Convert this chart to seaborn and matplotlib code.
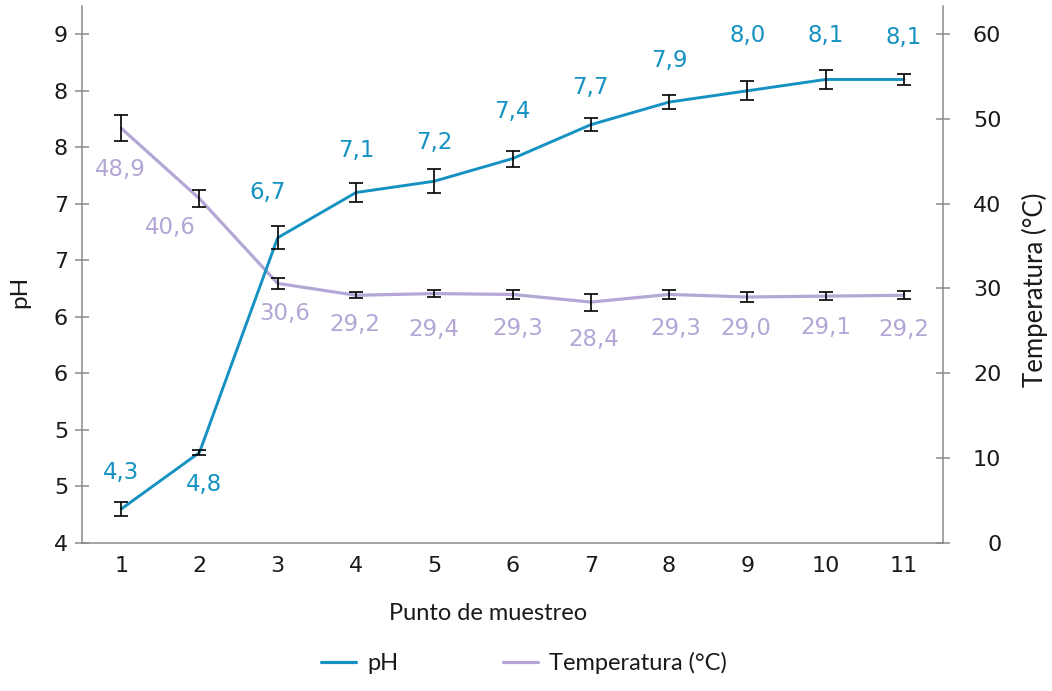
import matplotlib
matplotlib.use("Agg")
import math
import pandas as pd
import matplotlib.pyplot as plt
import seaborn as sns
from matplotlib.lines import Line2D

# --- data -------------------------------------------------------------------
puntos = [1, 2, 3, 4, 5, 6, 7, 8, 9, 10, 11]
ph = [4.3, 4.8, 6.7, 7.1, 7.2, 7.4, 7.7, 7.9, 8.0, 8.1, 8.1]
ph_err = [0.06, 0.025, 0.10, 0.087, 0.107, 0.07, 0.06, 0.06, 0.085, 0.087, 0.05]
temperatura = [48.9, 40.6, 30.6, 29.2, 29.4, 29.3, 28.4, 29.3, 29.0, 29.1, 29.2]
temperatura_err = [1.5, 1.0, 0.67, 0.33, 0.43, 0.5, 1.0, 0.5, 0.6, 0.5, 0.45]

ph_ticks = [4.0, 4.5, 5.0, 5.5, 6.0, 6.5, 7.0, 7.5, 8.0, 8.5]
temp_ticks = [0, 10, 20, 30, 40, 50, 60]

xlabel = "Punto de muestreo"
ylabel_ph = "pH"
ylabel_temp = "Temperatura (°C)"

# value-label placement (pixel offsets from each point)
ph_label_dx = [0, 5, -10, 0, 0, 0, 0, 0, 0, 0, 0]
ph_label_dy = [37, -32, 45, 42, 39, 47, 37, 42, 55, 44, 42]
temp_label_dx = [-1, -29, 7, -1, 0, 5, 3, 7, -2, 0, 0]
temp_label_dy = [-41, -29, -30, -29, -36, -34, -37, -34, -32, -31, -34]

# --- style ------------------------------------------------------------------
AZUL = "#1592c2"
LILA = "#b4a7d6"
GRIS = "#8a8a8a"
TEXTO = "#1a1a1a"

sns.set_theme(style="white")
plt.rcParams["font.family"] = ["Lato", "DejaVu Sans"]

W, H = 1052, 691
fig = plt.figure(figsize=(W / 100, H / 100), dpi=100)
left, right, top, bottom = 82, 943, 6, 543
ax = fig.add_axes([left / W, 1 - bottom / H, (right - left) / W, (bottom - top) / H])
ax2 = ax.twinx()

df = pd.DataFrame({"punto": puntos, "ph": ph, "temp": temperatura})

# temperature on the right axis
sns.lineplot(data=df, x="punto", y="temp", ax=ax2, color=LILA, linewidth=2.3,
             legend=False)
ax2.errorbar(puntos, temperatura, yerr=temperatura_err, fmt="none", ecolor="#000000",
             elinewidth=1.2, capsize=4.8, capthick=1.2, zorder=5)

# pH on the left axis, drawn above the temperature series
sns.lineplot(data=df, x="punto", y="ph", ax=ax, color=AZUL, linewidth=2.1,
             legend=False)
ax.errorbar(puntos, ph, yerr=ph_err, fmt="none", ecolor="#000000",
            elinewidth=1.2, capsize=4.8, capthick=1.2, zorder=5)
ax.set_zorder(ax2.get_zorder() + 1)
ax.patch.set_visible(False)

# value labels
num_font = dict(family="DejaVu Sans", fontsize=16.5, ha="center", va="center")
for x, v, dx, dy in zip(puntos, ph, ph_label_dx, ph_label_dy):
    ax.annotate(f"{v:.1f}".replace(".", ","), (x, v), xytext=(dx * 0.72, dy * 0.72),
                textcoords="offset points", color=AZUL, **num_font)
for x, v, dx, dy in zip(puntos, temperatura, temp_label_dx, temp_label_dy):
    ax2.annotate(f"{v:.1f}".replace(".", ","), (x, v), xytext=(dx * 0.72, dy * 0.72),
                 textcoords="offset points", color=LILA, **num_font)

# axes limits and ticks
ax.set_xlim(0.5, 11.5)
ax.set_ylim(4.0, 8.75)
ax2.set_ylim(0, 63.3)

ax.set_xticks(puntos, labels=[str(p) for p in puntos])
ax.set_yticks(ph_ticks, labels=[str(math.floor(t + 0.5)) for t in ph_ticks])
ax2.set_yticks(temp_ticks, labels=[str(t) for t in temp_ticks], ha="right")

tick_font = "DejaVu Sans"
for lab in ax.get_xticklabels() + ax.get_yticklabels() + ax2.get_yticklabels():
    lab.set_fontfamily(tick_font)

ax.tick_params(axis="x", length=0, pad=9.5, labelsize=16, labelcolor=TEXTO)
ax.tick_params(axis="y", direction="inout", length=10, width=1.1, color=GRIS,
               pad=5, labelsize=16, labelcolor=TEXTO, left=True)
ax2.tick_params(axis="y", direction="inout", length=10, width=1.1, color=GRIS,
                pad=37, labelsize=16, labelcolor=TEXTO, right=True)

# spines
for a in (ax, ax2):
    for s in a.spines.values():
        s.set_visible(False)
for s, a in (("left", ax), ("bottom", ax), ("right", ax2)):
    a.spines[s].set_visible(True)
    a.spines[s].set_color(GRIS)
    a.spines[s].set_linewidth(1.1)

# axis titles
ax.set_xlabel(xlabel, fontsize=17, color=TEXTO)
ax.xaxis.set_label_coords((488 - left) / (right - left), (bottom - 613) / (bottom - top))
ax.xaxis.label.set_va("center")
ax.set_ylabel(ylabel_ph, fontsize=17.5, color=TEXTO)
ax.yaxis.set_label_coords((20 - left) / (right - left), (bottom - 292) / (bottom - top))
ax.yaxis.label.set_va("center")
ax2.set_ylabel(ylabel_temp, fontsize=18.5, color=TEXTO, rotation=90)
ax2.yaxis.set_label_coords((1035 - left) / (right - left), (bottom - 290) / (bottom - top))
ax2.yaxis.label.set_va("center")

# legend below the plot
handles = [Line2D([], [], color=AZUL, linewidth=2.3),
           Line2D([], [], color=LILA, linewidth=2.3)]
fig.legend(handles, [ylabel_ph, ylabel_temp], loc="center",
           bbox_to_anchor=(524 / W, 1 - 663 / H), ncol=2, frameon=False,
           fontsize=17, handlelength=1.5, handletextpad=0.47, columnspacing=4.4,
           labelcolor=TEXTO)

fig.savefig("out.png", dpi=100)
